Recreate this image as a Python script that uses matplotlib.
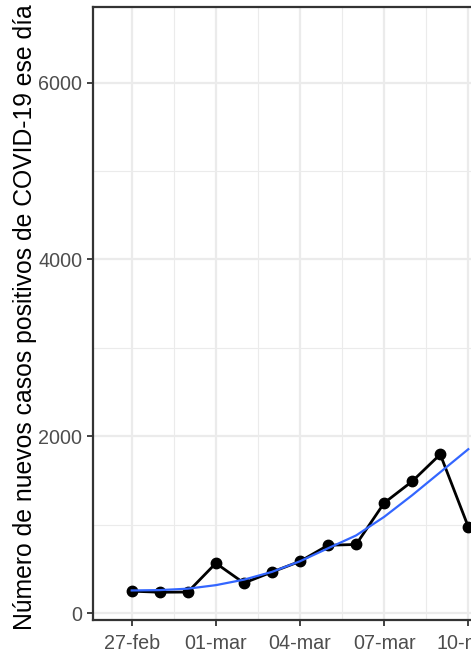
import matplotlib
matplotlib.use("Agg")
import matplotlib.pyplot as plt
from matplotlib.ticker import FixedLocator, MultipleLocator

plt.rcParams['font.family'] = ['Liberation Sans', 'DejaVu Sans']

# daily new positive cases
fechas = ["27-feb", "28-feb", "29-feb", "01-mar", "02-mar", "03-mar", "04-mar",
          "05-mar", "06-mar", "07-mar", "08-mar", "09-mar", "10-mar"]
nuevos = [250, 238, 240, 566, 342, 466, 587, 769, 778, 1247, 1492, 1797, 977]
# smoothed trend (loess-style curve)
suavizado = [258, 262, 278, 318, 380, 468, 588, 735, 880, 1090, 1335, 1595, 1855]

y_ticks = [0, 2000, 4000, 6000]
y_label = "Número de nuevos casos positivos de COVID-19 ese día"

W, H = 471, 654
fig = plt.figure(figsize=(W / 100, H / 100), dpi=100)
left, top, bottom = 93.3, 6.7, 620.0
ax = fig.add_axes([left / W, 1 - bottom / H, 1 - left / W, (bottom - top) / H])

x = list(range(len(fechas)))
px_day = 28.05
x0 = 131.7
ax.set_xlim((left - x0) / px_day, (W - x0) / px_day)
ax.set_ylim(-76, 6858)

ax.plot(x, nuevos, color="black", lw=2.0, zorder=3)
ax.plot(x, nuevos, "o", color="black", ms=7.5, zorder=4)
ax.plot(x, suavizado, color="#3366FF", lw=1.6, zorder=5)

ax.xaxis.set_major_locator(FixedLocator(x[::3]))
ax.set_xticklabels(fechas[::3])
ax.xaxis.set_minor_locator(MultipleLocator(3, offset=1.5))
ax.yaxis.set_major_locator(FixedLocator(y_ticks))
ax.yaxis.set_minor_locator(MultipleLocator(2000, offset=1000))

ax.grid(which="major", color="#EBEBEB", lw=1.6, zorder=0)
ax.grid(which="minor", color="#EBEBEB", lw=0.8, zorder=0)
ax.set_axisbelow(True)

ax.tick_params(which="major", length=4.5, width=1.3, color="#333333",
               labelsize=14.2, labelcolor="#4D4D4D", pad=3.5)
ax.tick_params(axis="x", which="major", pad=5.5)
ax.tick_params(which="minor", length=0)

for side in ("left", "top", "bottom"):
    ax.spines[side].set_color("#333333")
    ax.spines[side].set_linewidth(1.6)
ax.spines["right"].set_visible(False)

ax.set_ylabel(y_label, fontsize=17.8, color="black", va="baseline")
ax.yaxis.set_label_coords((31.7 - left) / (W - left), (bottom - 317) / (bottom - top))

fig.savefig("out.png", dpi=100)
